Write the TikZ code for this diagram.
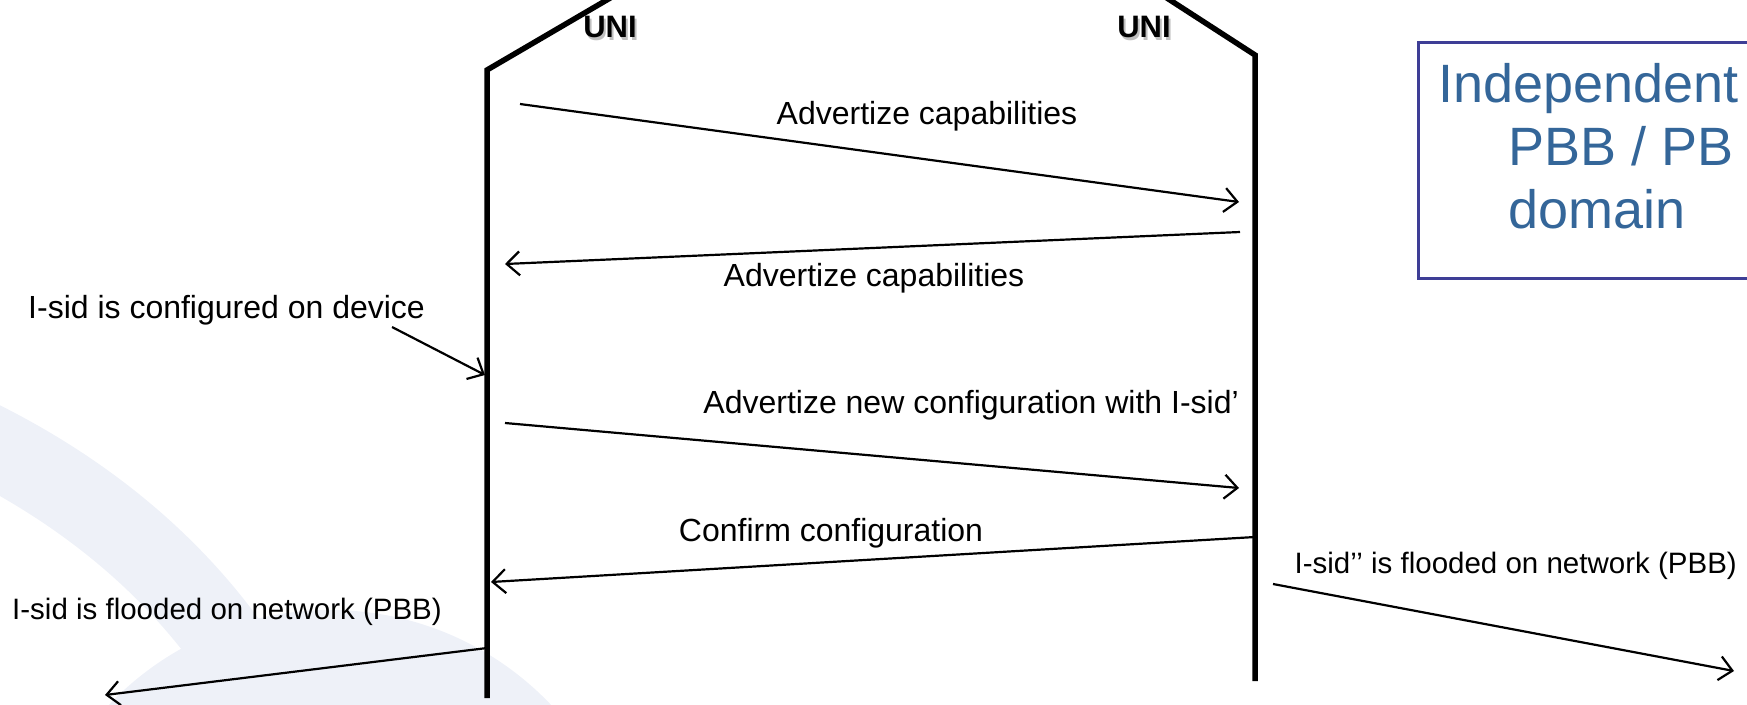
\documentclass[tikz,border=0pt]{standalone}
\usepackage{fontspec}
\setmainfont{Liberation Sans}
\usetikzlibrary{arrows.meta, positioning, backgrounds}

\definecolor{boxblue}{RGB}{62,62,150}
\definecolor{textblue}{RGB}{52,102,153}
\definecolor{wmark}{RGB}{238,241,248}

\begin{document}
\begin{tikzpicture}[
        x=1pt, y=-1pt,
        %Styles
        lifeline/.style={line width=5.5pt, line join=miter},
        msg/.style={line width=2.2pt, -{Straight Barb[length=13pt, width=24pt]}},
        lbl/.style={font=\fontsize{32}{38}\selectfont, inner sep=0pt},
        note/.style={font=\fontsize{29.5}{35}\selectfont, inner sep=0pt},
        uni/.style={font=\fontsize{31}{36}\selectfont\bfseries, inner sep=0pt},
        domtxt/.style={font=\fontsize{54}{63}\selectfont, text=textblue, align=left, inner sep=0pt},
    ]
\useasboundingbox (0,0) rectangle (1747,704);
\clip (0,0) rectangle (1747,704);

%watermark
\begin{scope}[on background layer]
  \fill[wmark] (330,915) circle (305);
  \draw[wmark, line width=80pt] (-20,440) .. controls (110,505) and (215,600) .. (280,730);
\end{scope}

%lifelines
\coordinate (Lout) at (641,-20);
\coordinate (Ltop) at (487,70);
\coordinate (Lbot) at (487,698);
\coordinate (Rout) at (1139,-20);
\coordinate (Rtop) at (1255,55);
\coordinate (Rbot) at (1255,681);
\draw[lifeline] (Lout) -- (Ltop) -- (Lbot);
\draw[lifeline] (Rout) -- (Rtop) -- (Rbot);

\node[uni, text=black!25] (uniLs) at (612,30) {UNI};
\node[uni] (uniL) at (610,27) {UNI};
\node[uni, text=black!25] (uniRs) at (1146,30) {UNI};
\node[uni] (uniR) at (1144,27) {UNI};

%messages
\coordinate (m1s) at (520,104);
\coordinate (m1e) at (1239,202);
\coordinate (m2s) at (1240,232);
\coordinate (m2e) at (505,264);
\coordinate (m3s) at (392,327);
\coordinate (m3e) at (485,375);
\coordinate (m4s) at (505,423);
\coordinate (m4e) at (1239,488);
\coordinate (m5s) at (1255,537);
\coordinate (m5e) at (491,582);
\coordinate (m6s) at (1273,584);
\coordinate (m6e) at (1734,671);
\coordinate (m7s) at (487,648);
\coordinate (m7e) at (105,695);

\draw[msg] (m1s) -- (m1e);
\draw[msg] (m2s) -- (m2e);
\draw[msg] (m3s) -- (m3e);
\draw[msg] (m4s) -- (m4e);
\draw[msg] (m5s) -- (m5e);
\draw[msg] (m6s) -- (m6e);
\draw[msg] (m7s) -- (m7e);

\node[lbl] (adv1) at (927,116) {Advertize capabilities};
\node[lbl] (adv2) at (874,278) {Advertize capabilities};
\node[lbl, anchor=west] (cfg) at (28,310) {I-sid is configured on device};
\node[lbl, anchor=east] (adv3) at (1239,405) {Advertize new configuration with I-sid’};
\node[lbl] (cfm) at (831,533) {Confirm configuration};
\node[note, anchor=east] (fl2) at (1737,566) {I-sid’’ is flooded on network (PBB)};
\node[note, anchor=west] (fl1) at (12,612) {I-sid is flooded on network (PBB)};

%domain box
\node[draw=boxblue, line width=2.5pt, minimum width=420pt, minimum height=236pt, anchor=north west] (dombox) at (1417,41) {};
\node[domtxt, anchor=north west] (dom) at (1438,63) {Independent\\\hspace*{70pt}PBB / PB\\\hspace*{70pt}domain};

\end{tikzpicture}
\end{document}
